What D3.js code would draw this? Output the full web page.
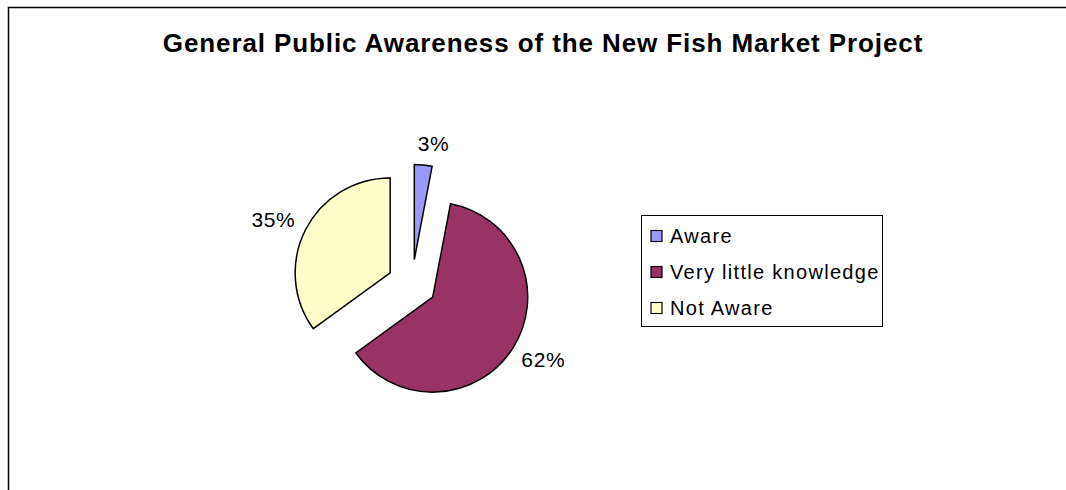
<!DOCTYPE html>
<html>
<head>
<meta charset="utf-8">
<script src="https://cdn.jsdelivr.net/npm/d3@7"></script>
<style>
  html, body { margin: 0; padding: 0; background: #fff; }
  svg { display: block; font-family: "Liberation Sans", Arial, sans-serif; }
</style>
</head>
<body>
<div id="chart"></div>
<script>
"use strict";

var categories = ["Aware", "Very little knowledge", "Not Aware"];
var shares = [3, 62, 35];
var labels = ["3%", "62%", "35%"];
var colors = ["#9999ff", "#993366", "#ffffcc"];
var title = "General Public Awareness of the New Fish Market Project";

function PieChart(container) {
  var chart = {w: 1066, h: 490, cx: 412, cy: 284, r: 95, explode: 24.5};
  var svg = d3.select(container).append('svg')
    .attr('width', chart.w)
    .attr('height', chart.h);

  chart.render = function() {
    // chart area border, cut off at the right and bottom
    svg.append('path')
      .attr('d', 'M8.5,' + (chart.h + 2) + 'V7.5H' + (chart.w + 2))
      .attr('fill', 'none')
      .attr('stroke', '#000')
      .attr('stroke-width', 1.5);

    svg.append('text')
      .attr('x', 543)
      .attr('y', 52)
      .attr('text-anchor', 'middle')
      .attr('font-size', 26)
      .attr('letter-spacing', 0.9)
      .attr('font-weight', 'bold')
      .text(title);

    var data = categories.map(function(c, i) {
      return {name: c, value: shares[i], label: labels[i], color: colors[i]};
    });

    var pie = d3.pie()
      .sort(null)
      .value(function(d) { return d.value; });
    var arc = d3.arc().innerRadius(0).outerRadius(chart.r);
    var arcs = pie(data);

    var g = svg.append('g')
      .attr('transform', 'translate(' + chart.cx + ',' + chart.cy + ')');

    var slices = g.selectAll('g.slice')
      .data(arcs)
      .enter()
        .append('g')
          .attr('class', 'slice')
          .attr('transform', function(d) {
            var a = (d.startAngle + d.endAngle) / 2;
            return 'translate(' + (Math.sin(a) * chart.explode) + ',' + (-Math.cos(a) * chart.explode) + ')';
          });

    slices.append('path')
      .attr('d', arc)
      .attr('fill', function(d) { return d.data.color; })
      .attr('stroke', '#000')
      .attr('stroke-width', 1.5)
      .attr('stroke-linejoin', 'miter');

    // percentage labels just outside each exploded slice
    g.selectAll('text.pct')
      .data(arcs)
      .enter()
        .append('text')
          .attr('class', 'pct')
          .attr('font-size', 21)
          .attr('letter-spacing', 0.6)
          .attr('text-anchor', 'middle')
          .attr('dominant-baseline', 'central')
          .attr('x', function(d) {
            var a = (d.startAngle + d.endAngle) / 2;
            var s = Math.sin(a);
            return s * (chart.explode + chart.r + 14) + s * 22 + (Math.abs(s) < 0.3 ? 7 : 0);
          })
          .attr('y', function(d) {
            var a = (d.startAngle + d.endAngle) / 2;
            var c = -Math.cos(a);
            return c * (chart.explode + chart.r + 14) + c * 8;
          })
          .text(function(d) { return d.data.label; });

    // legend
    var lg = svg.append('g').attr('transform', 'translate(641,215)');
    lg.append('rect')
      .attr('x', 0.5).attr('y', 0.5)
      .attr('width', 241).attr('height', 111)
      .attr('fill', '#fff')
      .attr('stroke', '#000')
      .attr('stroke-width', 1);

    var items = lg.selectAll('g.item')
      .data(data)
      .enter()
        .append('g')
          .attr('class', 'item')
          .attr('transform', function(d, i) { return 'translate(0,' + (21 + i * 36) + ')'; });

    items.append('rect')
      .attr('x', 10).attr('y', -5.5)
      .attr('width', 11).attr('height', 11)
      .attr('fill', function(d) { return d.color; })
      .attr('stroke', '#000')
      .attr('stroke-width', 1.2);

    items.append('text')
      .attr('x', 29)
      .attr('y', 0)
      .attr('dominant-baseline', 'central')
      .attr('font-size', 20)
      .attr('letter-spacing', 1.3)
      .text(function(d) { return d.name; });
  };

  return chart;
}

var chart = PieChart('#chart');
chart.render();
</script>
</body>
</html>
